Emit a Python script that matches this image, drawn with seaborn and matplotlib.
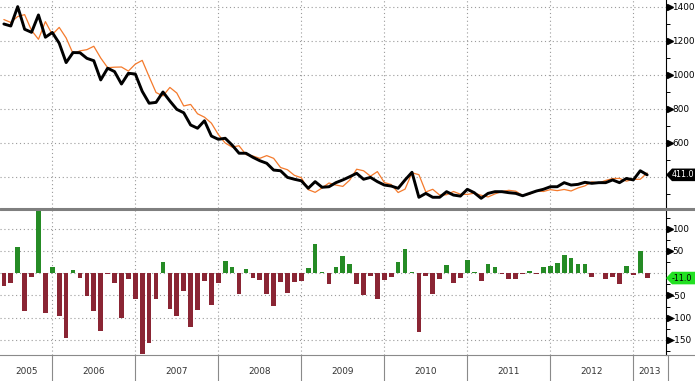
import numpy as np
import pandas as pd
import matplotlib
matplotlib.use("Agg")
import matplotlib.pyplot as plt
import seaborn as sns
from matplotlib.transforms import blended_transform_factory as btf
from matplotlib.patches import Polygon
from matplotlib.lines import Line2D
from matplotlib.ticker import MultipleLocator

# ---------------- data ----------------
dates = pd.date_range("2005-06-01", periods=94, freq="MS")

actual = [1298, 1286, 1400, 1267, 1249, 1351, 1220, 1248, 1185, 1071,
          1130, 1129, 1096, 1082, 969, 1038, 1018, 945, 1008, 1004,
          902, 832, 837, 898, 845, 796, 776, 704, 685, 729,
          639, 620, 626, 586, 538, 538, 514, 494, 479, 439,
          435, 396, 385, 376, 332, 371, 338, 341, 365, 381,
          400, 420, 385, 396, 371, 351, 345, 332, 381, 426,
          279, 302, 279, 279, 312, 292, 286, 326, 306, 273,
          302, 312, 312, 306, 302, 288, 302, 316, 326, 341,
          341, 365, 351, 355, 367, 361, 365, 365, 381, 365,
          390, 381, 435, 411]

consensus = [1324, 1307, 1342, 1353, 1260, 1208, 1312, 1236, 1278, 1216,
             1124, 1140, 1147, 1167, 1098, 1041, 1044, 1045, 1021, 1062,
             1084, 988, 895, 875, 925, 892, 816, 825, 770, 750,
             715, 648, 598, 574, 582, 530, 522, 508, 524, 508,
             454, 441, 408, 394, 324, 308, 334, 363, 351, 343,
             380, 444, 435, 403, 430, 366, 354, 307, 327, 423,
             412, 310, 326, 292, 294, 313, 297, 296, 303, 291,
             281, 299, 313, 320, 315, 289, 297, 317, 313, 324,
             318, 325, 316, 334, 346, 370, 363, 378, 389, 390,
             374, 385, 385, 422]

surprise = [-28, -21, 58, -86, -9, 139, -90, 14, -96, -145,
            7, -11, -51, -85, -129, -1, -23, -100, -13, -58,
            -182, -156, -58, 25, -80, -96, -40, -121, -82, -18,
            -72, -23, 28, 14, -46, 10, -11, -16, -46, -74,
            -19, -44, -20, -17, 12, 65, 2, -24, 14, 38,
            20, -24, -50, -7, -59, -15, -9, 25, 54, 3,
            -133, -7, -47, -13, 18, -21, -11, 30, 3, -18,
            21, 13, -1, -14, -13, -1, 5, -1, 13, 16,
            22, 40, 35, 21, 21, -9, 1, -13, -8, -25,
            16, -4, 50, -11]

years = [2005, 2006, 2007, 2008, 2009, 2010, 2011, 2012, 2013]
top_ticks = [400, 600, 800, 1000, 1200, 1400]
bot_ticks = [-150, -100, -50, 0, 50, 100]
hidden_top = 400     # label covered by the last-value tag
hidden_bot = 0
last_actual_label = "411.0"
last_surprise_label = "-11.0"

# ---------------- style ----------------
sns.set_style("white")
plt.rcParams["font.family"] = ["DejaVu Sans"]

W, H = 695, 381
fig = plt.figure(figsize=(W / 100, H / 100), dpi=100, facecolor="white")

def fx(px):
    return px / W

def fy(py):
    return 1 - py / H

AX_R = 665.7
TOP_B = 208
BOT_T, BOT_B = 210, 355
ax1 = fig.add_axes([0, fy(TOP_B), fx(AX_R), TOP_B / H])
ax2 = fig.add_axes([0, fy(BOT_B), fx(AX_R), (BOT_B - BOT_T) / H])

mi = (dates.year - 2005) * 12 + dates.month - 1
df = pd.DataFrame({"m": np.asarray(mi), "actual": actual,
                   "consensus": consensus, "surprise": surprise})
df["sign"] = np.where(df["surprise"] >= 0, "pos", "neg")

XL = (4.44, 100.68)
Y1 = (216, 1439)
Y2 = (-184, 142)

grid_kw = dict(color="#9a9a9a", lw=0.8, ls=(0, (1, 2.5)))

# ---------------- top panel ----------------
sns.lineplot(data=df, x="m", y="consensus", color="#f47a2c", lw=0.9, ax=ax1)
sns.lineplot(data=df, x="m", y="actual", color="black", lw=2.1, ax=ax1)

# ---------------- bottom panel ----------------
sns.barplot(data=df, x="m", y="surprise", hue="sign",
            palette={"pos": "#149c14", "neg": "#9b1428"},
            native_scale=True, width=0.68, dodge=False, legend=False,
            errorbar=None, linewidth=0, ax=ax2)

for ax, yl, yt, minor, hid in ((ax1, Y1, top_ticks, 100, hidden_top),
                               (ax2, Y2, bot_ticks, 25, hidden_bot)):
    ax.set_xlim(XL)
    ax.set_ylim(yl)
    ax.set_xlabel("")
    ax.set_ylabel("")
    ax.yaxis.tick_right()
    ax.set_yticks(yt)
    ax.set_yticklabels(["" if v == hid else str(v) for v in yt])
    ax.yaxis.set_minor_locator(MultipleLocator(minor))
    ax.tick_params(axis="y", which="major", length=0, pad=4.5,
                   labelsize=6.4, labelcolor="black")
    ax.tick_params(axis="y", which="minor", length=2.8, width=0.7,
                   color="black", direction="out")
    ax.grid(axis="y", **grid_kw)
    ax.grid(axis="x", visible=False)
    for yr in years[1:]:
        ax.axvline((yr - 2005) * 12, zorder=0, **grid_kw)
    for s in ("left", "top"):
        ax.spines[s].set_visible(False)
    ax.spines["right"].set_color("black")
    ax.spines["right"].set_linewidth(0.8)
    tr = btf(ax.transAxes, ax.transData)
    for v in yt:
        if v == hid:
            continue
        ax.plot([669.5 / AX_R], [v], marker=">", ms=4.0, color="black",
                transform=tr, clip_on=False, zorder=5)
    ax.set_axisbelow(True)

ax1.set_xticks([])
ax1.spines["bottom"].set_visible(False)

# x axis (quarters)
ax2.set_xticks(np.arange(6, 100, 3))
ax2.set_xticklabels([])
ax2.tick_params(axis="x", which="major", length=3, width=0.7,
                color="#555555", direction="out")
ax2.spines["bottom"].set_color("#8a8a8a")
ax2.spines["bottom"].set_linewidth(0.8)

# year separators and labels
trx = btf(ax2.transData, ax2.transAxes)
for yr in years[1:]:
    m = (yr - 2005) * 12
    ax2.add_line(Line2D([m, m], [0, -(H - BOT_B) / (BOT_B - BOT_T)],
                        transform=trx, color="#8a8a8a", lw=0.8, clip_on=False))
for yr in years:
    a = max((yr - 2005) * 12, XL[0])
    b = min((yr - 2004) * 12, XL[1])
    ax2.text((a + b) / 2, -(372 - BOT_B) / (BOT_B - BOT_T), str(yr),
             transform=trx, ha="center", va="center", fontsize=6.4,
             color="#333333")

# figure-level lines: separator, axis extension, right boundary of date strip
fig.add_artist(Line2D([0, 1], [fy(209), fy(209)], transform=fig.transFigure,
                      color="#7f7f7f", lw=2.2))
fig.add_artist(Line2D([fx(AX_R), 1], [fy(BOT_B), fy(BOT_B)],
                      transform=fig.transFigure, color="#8a8a8a", lw=0.8))
fig.add_artist(Line2D([fx(668), fx(668)], [fy(BOT_B), 0],
                      transform=fig.transFigure, color="#8a8a8a", lw=0.8))

# value tags on the right
def tag(ypx, face, text, tcolor):
    h = 6.3
    pts = [(666, ypx), (672, ypx - h), (W + 2, ypx - h), (W + 2, ypx + h), (672, ypx + h)]
    fig.add_artist(Polygon([(fx(x), fy(y)) for x, y in pts], closed=True,
                           transform=fig.transFigure, facecolor=face,
                           edgecolor="none", zorder=10))
    fig.text(fx(671.5), fy(ypx), text, color=tcolor, fontsize=5.8,
             ha="left", va="center", zorder=11)

y_act = TOP_B - (actual[-1] - Y1[0]) / (Y1[1] - Y1[0]) * TOP_B
y_sur = BOT_B - (surprise[-1] - Y2[0]) / (Y2[1] - Y2[0]) * (BOT_B - BOT_T)
tag(y_act, "black", last_actual_label, "white")
tag(y_sur, "#22e022", last_surprise_label, "black")

fig.savefig("out.png", dpi=100, facecolor="white")
